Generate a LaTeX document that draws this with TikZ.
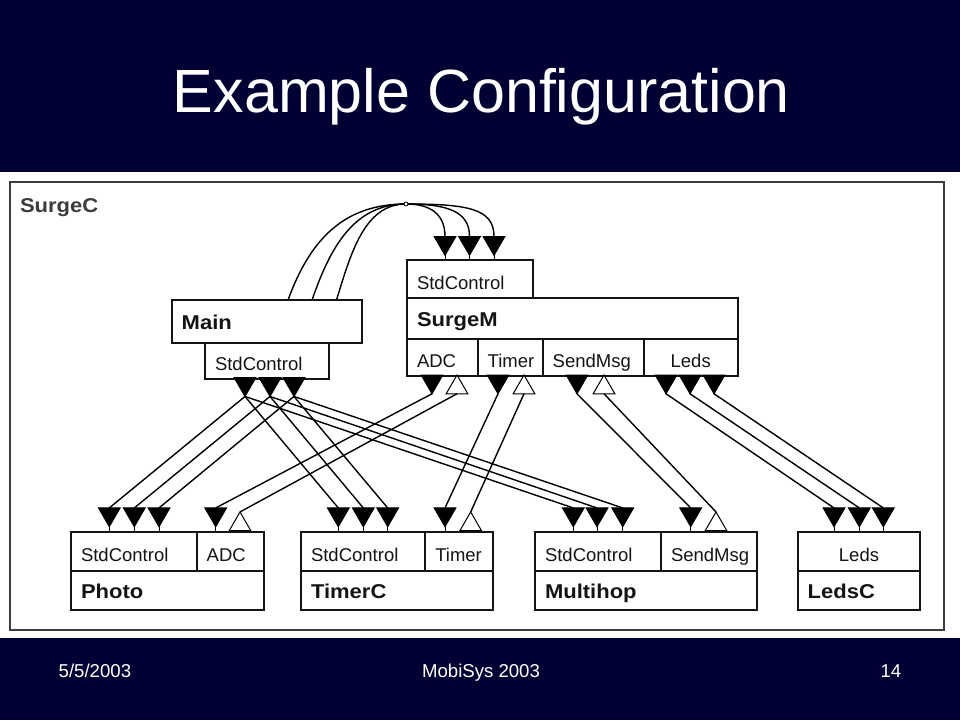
\documentclass[tikz,border=0pt]{standalone}
\usepackage{fontspec}
\setmainfont{Liberation Sans}
\newfontfamily\namefont[FakeStretch=1.1]{Liberation Sans}
\usetikzlibrary{shapes.geometric}
\definecolor{slidebg}{RGB}{0,0,51}
\definecolor{framegray}{RGB}{60,60,60}
\definecolor{ink}{RGB}{20,20,20}

\begin{document}
\begin{tikzpicture}[x=1pt, y=-1pt, line width=1.4pt,
  name box/.style 2 args={draw=ink, text=ink, line width=2pt, anchor=north west, text width=#1, minimum height=#2, inner xsep=10pt, inner ysep=0pt, text height=16pt, text depth=0pt, align=left, font=\namefont\bfseries\fontsize{20}{24}\selectfont},
  port box/.style 2 args={draw=ink, text=ink, line width=2pt, anchor=north west, text width=#1, minimum height=#2, inner xsep=10pt, inner ysep=0pt, text height=20pt, text depth=0pt, align=left, font=\fontsize{18.5}{22}\selectfont},
  cmd tri/.style={regular polygon, regular polygon sides=3, shape border rotate=180, draw=black, fill=black, line width=1pt, minimum size=25pt, inner sep=0pt, outer sep=0pt},
  evt tri/.style={regular polygon, regular polygon sides=3, draw=black, fill=white, line width=1pt, minimum size=25pt, inner sep=0pt, outer sep=0pt},
  foot text/.style={text=white, font=\fontsize{18.6}{22}\selectfont, inner sep=0pt}]
\useasboundingbox (0,0) rectangle (960,720);
\fill[slidebg] (0,0) rectangle (960,720);
\fill[white] (0,172) rectangle (960,637.5);

\node[text=white, font=\fontsize{61}{72}\selectfont, anchor=base, inner sep=0pt] (title) at (481.5,112) {Example Configuration};
\node[foot text, anchor=base west] (date) at (58,677.3) {5/5/2003};
\node[foot text, anchor=base] (conf) at (481,677.3) {MobiSys 2003};
\node[foot text, anchor=base east] (page) at (902,677.3) {14};

% configuration frame
\node[draw=framegray, line width=2pt, minimum width=934pt, minimum height=448pt, anchor=north west, inner sep=0pt] (surgec) at (9,181) {};
\node[anchor=west, text=framegray, font=\namefont\bfseries\fontsize{20}{24}\selectfont] (surgeclbl) at (16,208) {SurgeC};

\begin{scope}
\node[name box={170.3pt}{42.4pt}] (main) at (170.7,299.3) {Main};
\node[port box={104.3pt}{36pt}] (mainstd) at (204,341.7) {StdControl};

\node[port box={105.7pt}{37.4pt}] (surgestd) at (406,259.3) {StdControl};
\node[name box={310.7pt}{41pt}] (surgem) at (406,296.7) {SurgeM};
\node[port box={50.7pt}{37.3pt}] (sadc) at (406,337.7) {ADC};
\node[port box={45pt}{37.3pt}] (stimer) at (476.7,337.7) {Timer};
\node[port box={81pt}{37.3pt}] (ssend) at (541.7,337.7) {SendMsg};
\node[port box={74pt}{37.3pt}, align=center] (sleds) at (642.7,337.7) {Leds};

\node[port box={105.7pt}{39.3pt}] (photostd) at (70,530.7) {StdControl};
\node[port box={47.6pt}{39.3pt}] (photoadc) at (195.7,530.7) {ADC};
\node[name box={173.3pt}{39.3pt}] (photo) at (70,570) {Photo};

\node[port box={104.3pt}{39.3pt}] (timerstd) at (300,530.7) {StdControl};
\node[port box={47.4pt}{39.3pt}] (timertmr) at (424.3,530.7) {Timer};
\node[name box={171.7pt}{39.3pt}] (timerc) at (300,570) {TimerC};

\node[port box={106pt}{39.3pt}] (multistd) at (534,530.7) {StdControl};
\node[port box={76pt}{39.3pt}] (multisend) at (660,530.7) {SendMsg};
\node[name box={202pt}{39.3pt}] (multihop) at (534,570) {Multihop};

\node[port box={102.6pt}{39.3pt}, align=center] (ledsleds) at (796.7,530.7) {Leds};
\node[name box={102.6pt}{39.3pt}] (ledsc) at (796.7,570) {LedsC};
\end{scope}

\begin{scope}
\node[cmd tri, anchor=north] (m1) at (245,377.7) {};
\node[cmd tri, anchor=north] (m2) at (270,377.7) {};
\node[cmd tri, anchor=north] (m3) at (294,377.7) {};

\node[cmd tri, anchor=south] (u1) at (445,255.3) {};
\node[cmd tri, anchor=south] (u2) at (469.5,255.3) {};
\node[cmd tri, anchor=south] (u3) at (494,255.3) {};

\node[cmd tri, anchor=north] (sa) at (432,375) {};
\node[evt tri, anchor=north] (sae) at (457,375) {};
\node[cmd tri, anchor=north] (st) at (498,375) {};
\node[evt tri, anchor=north] (ste) at (524,375) {};
\node[cmd tri, anchor=north] (ss) at (577,375) {};
\node[evt tri, anchor=north] (sse) at (604,375) {};
\node[cmd tri, anchor=north] (sl1) at (666,375) {};
\node[cmd tri, anchor=north] (sl2) at (690,375) {};
\node[cmd tri, anchor=north] (sl3) at (714,375) {};

\node[cmd tri, anchor=south] (p1) at (109.3,526.7) {};
\node[cmd tri, anchor=south] (p2) at (134.3,526.7) {};
\node[cmd tri, anchor=south] (p3) at (159,526.7) {};
\node[cmd tri, anchor=south] (pa) at (215.7,526.7) {};
\node[evt tri, anchor=south] (pe) at (240,530.7) {};

\node[cmd tri, anchor=south] (t1) at (338.3,526.7) {};
\node[cmd tri, anchor=south] (t2) at (363.3,526.7) {};
\node[cmd tri, anchor=south] (t3) at (387.7,526.7) {};
\node[cmd tri, anchor=south] (tt) at (445,526.7) {};
\node[evt tri, anchor=south] (te) at (470.7,530.7) {};

\node[cmd tri, anchor=south] (h1) at (573.3,526.7) {};
\node[cmd tri, anchor=south] (h2) at (597,526.7) {};
\node[cmd tri, anchor=south] (h3) at (622.7,526.7) {};
\node[cmd tri, anchor=south] (hs) at (690.7,526.7) {};
\node[evt tri, anchor=south] (he) at (716,530.7) {};

\node[cmd tri, anchor=south] (l1) at (834,526.7) {};
\node[cmd tri, anchor=south] (l2) at (859.3,526.7) {};
\node[cmd tri, anchor=south] (l3) at (883.3,526.7) {};
\end{scope}

% stems
\begin{scope}[line width=1pt]
\draw (u1.south) -- (u1.south |- surgestd.north);
\draw (u2.south) -- (u2.south |- surgestd.north);
\draw (u3.south) -- (u3.south |- surgestd.north);
\draw (p1.south) -- (p1.south |- photostd.north);
\draw (p2.south) -- (p2.south |- photostd.north);
\draw (p3.south) -- (p3.south |- photostd.north);
\draw (pa.south) -- (pa.south |- photoadc.north);
\draw (t1.south) -- (t1.south |- timerstd.north);
\draw (t2.south) -- (t2.south |- timerstd.north);
\draw (t3.south) -- (t3.south |- timerstd.north);
\draw (tt.south) -- (tt.south |- timertmr.north);
\draw (h1.south) -- (h1.south |- multistd.north);
\draw (h2.south) -- (h2.south |- multistd.north);
\draw (h3.south) -- (h3.south |- multistd.north);
\draw (hs.south) -- (hs.south |- multisend.north);
\draw (l1.south) -- (l1.south |- ledsleds.north);
\draw (l2.south) -- (l2.south |- ledsleds.north);
\draw (l3.south) -- (l3.south |- ledsleds.north);
\end{scope}

% Main boots SurgeM
\coordinate (f1) at (288.3,299.3);
\coordinate (f2) at (312.3,299.3);
\coordinate (f3) at (336.7,299.3);
\coordinate (hub) at (406,204);
\draw (f1) .. controls +(22,-60) and +(-62,0) .. (hub);
\draw (f2) .. controls +(18,-52) and +(-52,0) .. (hub);
\draw (f3) .. controls +(14,-45) and +(-42,0) .. (hub);
\draw (hub) .. controls +(25,0) and +(0,-22) .. (u1.north);
\draw (hub) .. controls +(42,0) and +(0,-25) .. (u2.north);
\draw (hub) .. controls +(62,0) and +(0,-28) .. (u3.north);
\node[circle, draw, fill=white, line width=0.8pt, minimum size=4pt, inner sep=0pt] (hubdot) at (hub) {};

\begin{scope}
\draw (m1.south) -- (p1.north);
\draw (m2.south) -- (p2.north);
\draw (m3.south) -- (p3.north);
\draw (m1.south) -- (t1.north);
\draw (m2.south) -- (t2.north);
\draw (m3.south) -- (t3.north);
\draw (m1.south) -- (h1.north);
\draw (m2.south) -- (h2.north);
\draw (m3.south) -- (h3.north);
\draw (sa.south) -- (pa.north);
\draw (pe.north) -- (sae.south);
\draw (st.south) -- (tt.north);
\draw (te.north) -- (ste.south);
\draw (ss.south) -- (hs.north);
\draw (he.north) -- (sse.south);
\draw (sl1.south) -- (l1.north);
\draw (sl2.south) -- (l2.north);
\draw (sl3.south) -- (l3.north);
\end{scope}
\end{tikzpicture}
\end{document}
